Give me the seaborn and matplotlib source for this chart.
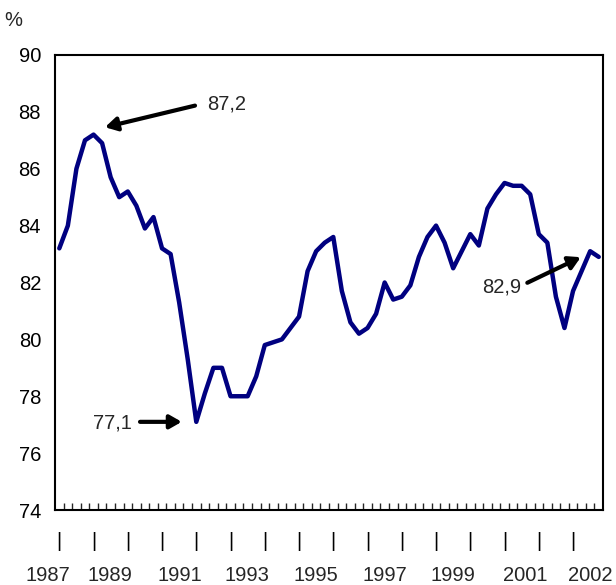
import numpy as np
import pandas as pd
import matplotlib
matplotlib.use("Agg")
import matplotlib.pyplot as plt
import seaborn as sns

# Quarterly series, 1987Q1 - 2002Q4 (%)
values = [
    83.2, 84.0, 86.0, 87.0, 87.2, 86.9, 85.7, 85.0,
    85.2, 84.7, 83.9, 84.3, 83.2, 83.0, 81.3, 79.3,
    77.1, 78.1, 79.0, 79.0, 78.0, 78.0, 78.0, 78.7,
    79.8, 79.9, 80.0, 80.4, 80.8, 82.4, 83.1, 83.4,
    83.6, 81.7, 80.6, 80.2, 80.4, 80.9, 82.0, 81.4,
    81.5, 81.9, 82.9, 83.6, 84.0, 83.4, 82.5, 83.1,
    83.7, 83.3, 84.6, 85.1, 85.5, 85.4, 85.4, 85.1,
    83.7, 83.4, 81.5, 80.4, 81.7, 82.4, 83.1, 82.9,
]
years = list(range(1987, 2003))
year_labels = ["1987", "1989", "1991", "1993", "1995", "1997", "1999", "2001", "2002"]
y_ticks = [74, 76, 78, 80, 82, 84, 86, 88, 90]

# callouts: label, index of the quarter it refers to
callouts = {"87,2": 4, "77,1": 16, "82,9": 63}

# layout (category units on x) for the year label row, as in the original
year_label_x = [-0.82, 6.36, 14.6, 22.47, 30.46, 38.54, 46.45, 54.87, 62.52]

LINE_COLOR = "#000080"
FS = 14.5

sns.set_style("white")
plt.rcParams['font.family'] = ['Liberation Sans', 'DejaVu Sans']

df = pd.DataFrame({"pos": np.arange(len(values)) + 0.5, "value": values})

fig = plt.figure(figsize=(6.16, 5.85), dpi=100)
ax = fig.add_axes([0.0893, 0.1282, 0.8896, 0.7778])

sns.lineplot(data=df, x="pos", y="value", color=LINE_COLOR, linewidth=3.2,
             ax=ax, legend=False)

ax.set_xlim(0, len(values))
ax.set_ylim(74, 90)
ax.set_xlabel("")
ax.set_ylabel("")

# y axis
ax.set_yticks(y_ticks)
ax.set_yticklabels([str(t) for t in y_ticks], fontsize=FS)
ax.tick_params(axis="y", direction="in", length=6, width=1.2, pad=10, colors="black")

# x axis: small ticks between quarters, "|" marks at the first quarter of each year
ax.set_xticks(np.arange(1, len(values)), minor=True)
ax.tick_params(axis="x", which="minor", direction="in", length=5, width=1.0, bottom=True)
ax.set_xticks([(y - years[0]) * 4 + 0.5 for y in years])
ax.set_xticklabels(["|"] * len(years), fontsize=FS)
ax.tick_params(axis="x", which="major", length=0, pad=16, colors="black")

for lab, xp in zip(year_labels, year_label_x):
    ax.text(xp, -0.145, lab, transform=ax.get_xaxis_transform(),
            ha="center", va="center", fontsize=FS, clip_on=False)

for sp in ax.spines.values():
    sp.set_visible(True)
    sp.set_color("black")
    sp.set_linewidth(1.5)

fig.text(13 / 616, 1 - 21 / 585, "%", ha="center", va="center", fontsize=FS)

# callout arrows
arrow = dict(arrowstyle="-|>,head_length=0.7,head_width=0.4", lw=3,
             color="black", shrinkA=0, shrinkB=0)

i = callouts["87,2"]
ax.annotate("", xy=(5.84, 87.46), xytext=(16.35, 88.22), arrowprops=arrow)
ax.text(17.75, 88.28, "87,2", ha="left", va="center", fontsize=FS)

i = callouts["77,1"]
ax.annotate("", xy=(14.8, values[i]), xytext=(9.93, values[i]), arrowprops=arrow)
ax.text(6.72, 77.06, "77,1", ha="center", va="center", fontsize=FS)

i = callouts["82,9"]
ax.annotate("", xy=(61.4, 82.89), xytext=(55.16, 81.99), arrowprops=arrow)
ax.text(52.2, 81.84, "82,9", ha="center", va="center", fontsize=FS)

fig.savefig("out.png", dpi=100)
plt.close(fig)
